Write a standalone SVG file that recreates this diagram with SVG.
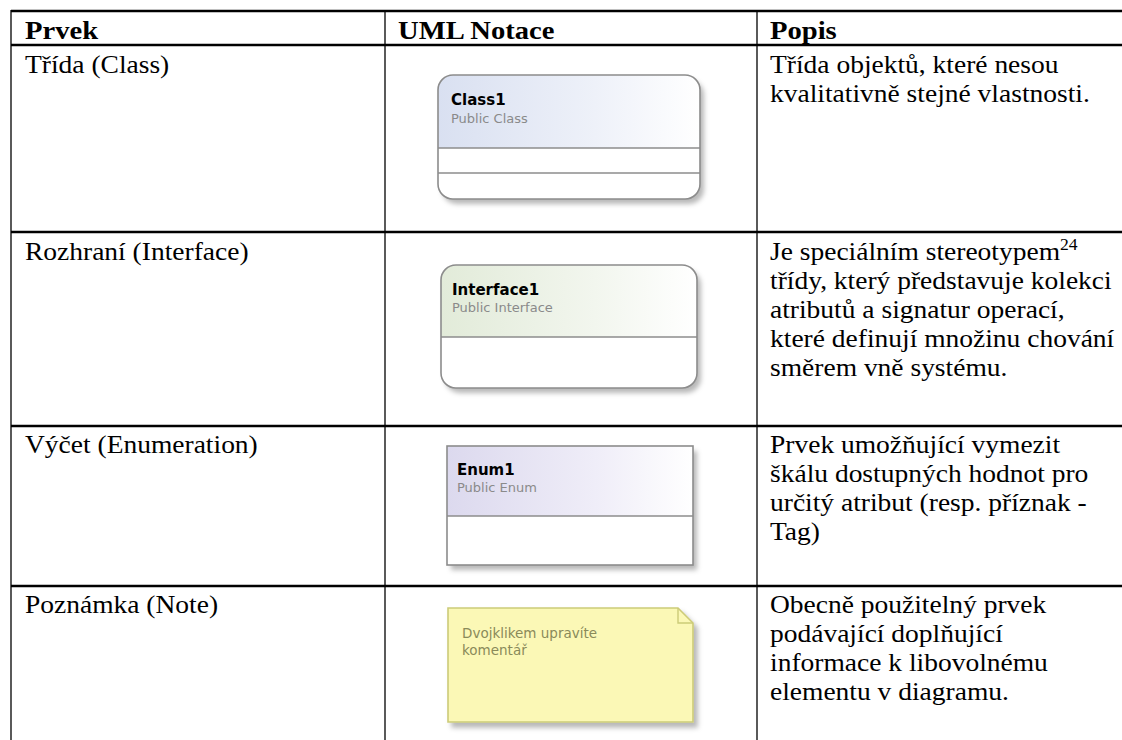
<svg xmlns="http://www.w3.org/2000/svg" width="1122" height="740" viewBox="0 0 1122 740">
<style>
.hl{stroke:#000;stroke-width:2.5}
.vl{stroke:#000;stroke-width:1.3}
.t{font-family:"Liberation Serif","Times New Roman",serif;font-size:25px;fill:#000}
.th{font-family:"Liberation Serif","Times New Roman",serif;font-size:26px;font-weight:bold;fill:#000}
.sup{font-size:16px}
.nm{font-family:"DejaVu Sans",Tahoma,Verdana,sans-serif;font-size:15px;font-weight:bold;fill:#000}
.sub{font-family:"DejaVu Sans",Tahoma,Verdana,sans-serif;font-size:13px;fill:#8a8a8a}
.box{stroke:#8c8c8c;stroke-width:1.6}
.sep{stroke:#8c8c8c;stroke-width:1.6}
.notetx{font-family:"DejaVu Sans",Tahoma,Verdana,sans-serif;font-size:13.5px;fill:#8a8a5a}
</style>
<defs>
<linearGradient id="gClass" x1="0" y1="0" x2="1" y2="0">
<stop offset="0" stop-color="#d9e0f1"/><stop offset="0.6" stop-color="#eef1f9"/><stop offset="1" stop-color="#ffffff"/>
</linearGradient>
<linearGradient id="gIface" x1="0" y1="0" x2="1" y2="0">
<stop offset="0" stop-color="#e2ebd9"/><stop offset="0.6" stop-color="#f2f6ee"/><stop offset="1" stop-color="#ffffff"/>
</linearGradient>
<linearGradient id="gEnum" x1="0" y1="0" x2="1" y2="0">
<stop offset="0" stop-color="#dcd9ee"/><stop offset="0.6" stop-color="#efedf8"/><stop offset="1" stop-color="#ffffff"/>
</linearGradient>
<filter id="sh" x="-10%" y="-10%" width="130%" height="140%">
<feDropShadow dx="4" dy="5" stdDeviation="2.5" flood-color="#000" flood-opacity="0.28"/>
</filter>
<clipPath id="cpClass"><rect x="438" y="75" width="262" height="124" rx="15"/></clipPath>
<clipPath id="cpIface"><rect x="441" y="265" width="256" height="123" rx="15"/></clipPath>
</defs>
<rect width="1122" height="740" fill="#fff"/>

<g id="table-lines">
<line class="hl" x1="11" y1="11" x2="1122" y2="11"/>
<line class="hl" x1="11" y1="45" x2="1122" y2="45"/>
<line class="hl" x1="11" y1="232" x2="1122" y2="232"/>
<line class="hl" x1="11" y1="426" x2="1122" y2="426"/>
<line class="hl" x1="11" y1="586" x2="1122" y2="586"/>
<line class="vl" x1="11" y1="10" x2="11" y2="740"/>
<line class="vl" x1="385" y1="10" x2="385" y2="740"/>
<line class="vl" x1="757" y1="10" x2="757" y2="740"/>
</g>

<g id="header">
<g transform="translate(25 0) scale(1.1 1)"><text class="th" x="0" y="39">Prvek</text></g>
<g transform="translate(398 0) scale(1.1 1)"><text class="th" x="0" y="39">UML Notace</text></g>
<g transform="translate(770 0) scale(1.1 1)"><text class="th" x="0" y="39">Popis</text></g>
</g>

<g id="col-prvek" transform="translate(25 0) scale(1.1 1)">
<text class="t" x="0" y="73">Třída (Class)</text>
<text class="t" x="0" y="260">Rozhraní (Interface)</text>
<text class="t" x="0" y="453">Výčet (Enumeration)</text>
<text class="t" x="0" y="613">Poznámka (Note)</text>
</g>

<g id="col-popis" transform="translate(770 0) scale(1.1 1)">
<text class="t" x="0" y="73">Třída objektů, které nesou</text>
<text class="t" x="0" y="102">kvalitativně stejné vlastnosti.</text>
<text class="t" x="0" y="260">Je speciálním stereotypem<tspan class="sup" dy="-10">24</tspan></text>
<text class="t" x="0" y="289">třídy, který představuje kolekci</text>
<text class="t" x="0" y="318">atributů a signatur operací,</text>
<text class="t" x="0" y="347">které definují množinu chování</text>
<text class="t" x="0" y="376">směrem vně systému.</text>
<text class="t" x="0" y="453">Prvek umožňující vymezit</text>
<text class="t" x="0" y="482">škálu dostupných hodnot pro</text>
<text class="t" x="0" y="511">určitý atribut (resp. příznak -</text>
<text class="t" x="0" y="540">Tag)</text>
<text class="t" x="0" y="613">Obecně použitelný prvek</text>
<text class="t" x="0" y="642">podávající doplňující</text>
<text class="t" x="0" y="671">informace k libovolnému</text>
<text class="t" x="0" y="700">elementu v diagramu.</text>
</g>

<g id="node-class">
<rect x="438" y="75" width="262" height="124" rx="15" fill="#fff" filter="url(#sh)"/>
<rect x="438" y="75" width="262" height="73" fill="url(#gClass)" clip-path="url(#cpClass)"/>
<line class="sep" x1="438" y1="148" x2="700" y2="148"/>
<line class="sep" x1="438" y1="173" x2="700" y2="173"/>
<rect class="box" x="438" y="75" width="262" height="124" rx="15" fill="none"/>
<text class="nm" x="451" y="105">Class1</text>
<text class="sub" x="451" y="123">Public Class</text>
</g>

<g id="node-interface">
<rect x="441" y="265" width="256" height="123" rx="15" fill="#fff" filter="url(#sh)"/>
<rect x="441" y="265" width="256" height="72" fill="url(#gIface)" clip-path="url(#cpIface)"/>
<line class="sep" x1="441" y1="337" x2="697" y2="337"/>
<rect class="box" x="441" y="265" width="256" height="123" rx="15" fill="none"/>
<text class="nm" x="452" y="295">Interface1</text>
<text class="sub" x="452" y="312">Public Interface</text>
</g>

<g id="node-enum">
<rect x="447" y="446" width="246" height="119" fill="#fff" filter="url(#sh)"/>
<rect x="447" y="446" width="246" height="70" fill="url(#gEnum)"/>
<line class="sep" x1="447" y1="516" x2="693" y2="516"/>
<rect class="box" x="447" y="446" width="246" height="119" fill="none"/>
<text class="nm" x="457" y="475">Enum1</text>
<text class="sub" x="457" y="492">Public Enum</text>
</g>

<g id="node-note">
<path d="M448 608 H678 L693 623 V722 H448 Z" fill="#fbf8b6" stroke="#cccb78" stroke-width="1.6" filter="url(#sh)"/>
<path d="M678 608 V623 H693" fill="none" stroke="#cccb78" stroke-width="1.4"/>
<text class="notetx" x="462" y="638">Dvojklikem upravíte</text>
<text class="notetx" x="462" y="655">komentář</text>
</g>
</svg>
